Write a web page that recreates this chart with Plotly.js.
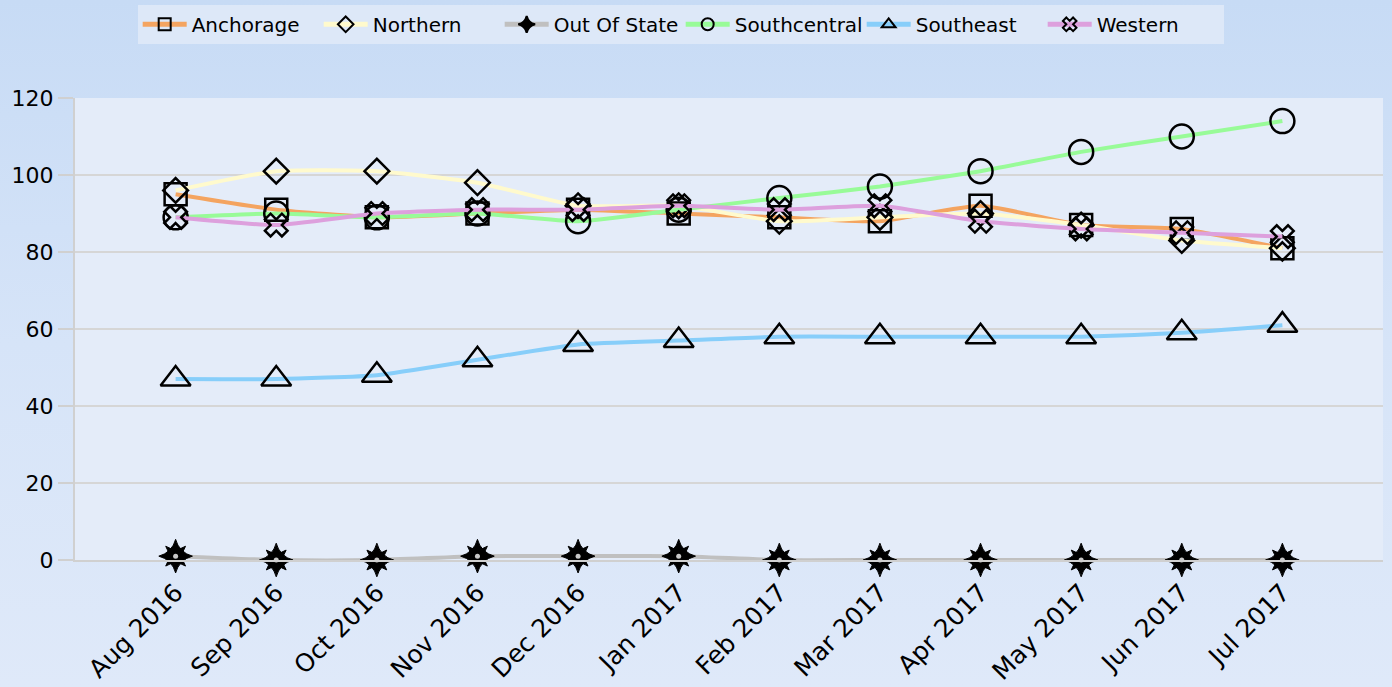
<!DOCTYPE html>
<html>
<head>
<meta charset="utf-8">
<script src="https://cdn.plot.ly/plotly-3.0.1.min.js"></script>
<style>
  html, body { margin: 0; padding: 0; }
  #chart { width: 1392px; height: 687px; background: linear-gradient(to bottom, #c7dbf5 0%, #d6e4f8 50%, #dfe9f9 100%); }
</style>
</head>
<body>
<div id="chart"></div>
<script>
const months = ["Aug 2016","Sep 2016","Oct 2016","Nov 2016","Dec 2016","Jan 2017","Feb 2017","Mar 2017","Apr 2017","May 2017","Jun 2017","Jul 2017"];
const anchorage    = [95, 91, 89, 90, 91, 90, 89, 88, 92, 87, 86, 81];
const northern     = [96, 101, 101, 98, 92, 92, 88, 89, 90, 87, 83, 81];
const outOfState   = [1, 0, 0, 1, 1, 1, 0, 0, 0, 0, 0, 0];
const southcentral = [89, 90, 89, 90, 88, 91, 94, 97, 101, 106, 110, 114];
const southeast    = [47, 47, 48, 52, 56, 57, 58, 58, 58, 58, 59, 61];
const western      = [89, 87, 90, 91, 91, 92, 91, 92, 88, 86, 85, 84];

function series(name, y, color, symbol, size, extra) {
  return Object.assign({
    type: 'scatter', mode: 'lines+markers', name: name,
    x: months, y: y, cliponaxis: false,
    line: { color: color, width: 4, shape: 'spline', smoothing: 0.5 },
    marker: { symbol: symbol, size: size, color: '#000', line: { color: '#000', width: 2.5 } }
  }, extra || {});
}

const traces = [
  series('Anchorage', anchorage, '#f4a460', 'square-open', 22),
  series('Northern', northern, '#fffacd', 'diamond-open', 19),
  series('Out Of State', outOfState, '#c0c0c0', 'star-diamond', 24, { legendgroup: 'oos', marker: { symbol: 'star-diamond', size: 24, color: '#000', line: { color: '#000', width: 1 } } }),
  series('Southcentral', southcentral, '#98fb98', 'circle-open', 24),
  series('Southeast', southeast, '#87cefa', 'triangle-up-open', 26),
  series('Western', western, '#dda0dd', 'x-open', 20)
];
// extra layers of the Out Of State starburst
traces.splice(3, 0, {
  type: 'scatter', mode: 'markers', x: months, y: outOfState, cliponaxis: false,
  showlegend: false, legendgroup: 'oos', hoverinfo: 'skip',
  marker: { symbol: 'star-square', size: 18, color: '#000', line: { color: '#000', width: 1 } }
});
traces.splice(4, 0, {
  type: 'scatter', mode: 'markers', x: months, y: outOfState, cliponaxis: false,
  showlegend: false, legendgroup: 'oos', hoverinfo: 'skip',
  marker: { symbol: 'circle', size: 5, color: '#c8c8c8', line: { width: 0 } }
});

const layout = {
  width: 1392, height: 687,
  paper_bgcolor: 'rgba(0,0,0,0)',
  plot_bgcolor: '#e4ecf9',
  margin: { l: 75, r: 9, t: 98, b: 127 },
  font: { family: '"DejaVu Sans", Verdana, sans-serif', color: '#000' },
  showlegend: true,
  legend: {
    orientation: 'h', xref: 'container', yref: 'container',
    x: 0.489, xanchor: 'center', y: 0.993, yanchor: 'top',
    bgcolor: '#dde8f8', font: { size: 20 }, itemsizing: 'constant',
    itemwidth: 44, entrywidth: 122, borderwidth: 0
  },
  xaxis: {
    type: 'category', range: [-1, 12], tickangle: -45,
    tickfont: { size: 25 }, showgrid: false, zeroline: false,
    showline: true, linecolor: '#d0d0d0', linewidth: 2,
    ticks: '', ticklabelstandoff: 6, automargin: false
  },
  yaxis: {
    range: [0, 120], dtick: 20, tickfont: { size: 22 },
    showgrid: true, gridcolor: '#d6d6d6', gridwidth: 2,
    zeroline: false, showline: true, linecolor: '#d0d0d0', linewidth: 2,
    ticks: 'outside', ticklen: 15, tickcolor: '#d0d0d0', tickwidth: 2,
    automargin: false
  }
};

Plotly.newPlot('chart', traces, layout, { displayModeBar: false });
</script>
</body>
</html>
